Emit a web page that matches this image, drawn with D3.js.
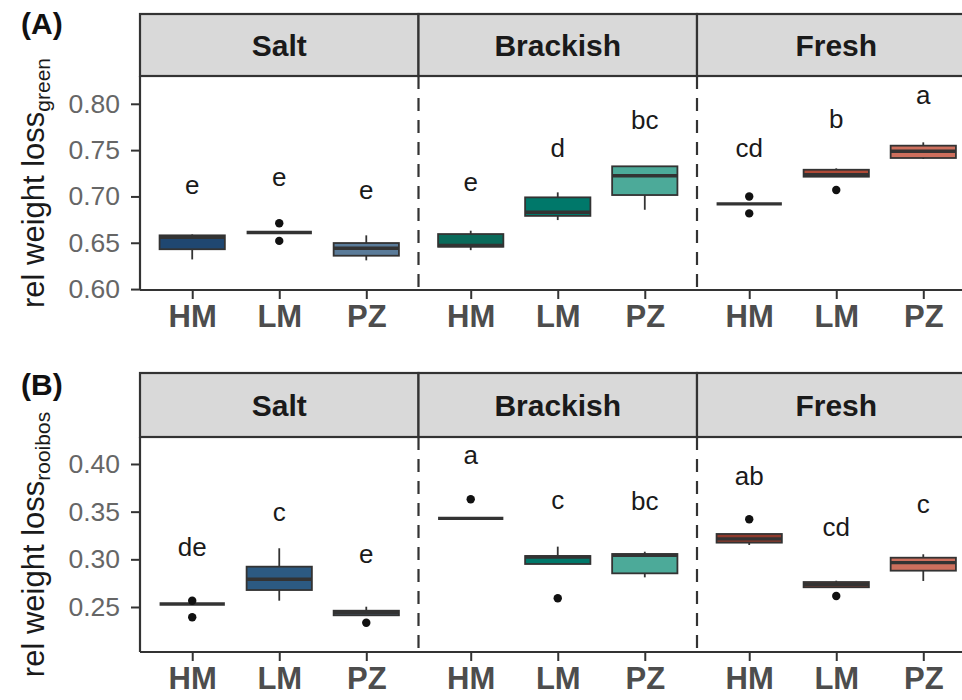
<!DOCTYPE html>
<html>
<head>
<meta charset="utf-8">
<script src="https://cdn.jsdelivr.net/npm/d3@7/dist/d3.min.js"></script>
<style>
  html, body { margin: 0; padding: 0; background: #ffffff; }
  svg { display: block; font-family: "Liberation Sans", Arial, sans-serif; }
</style>
</head>
<body>
<script>
// Sites (facets) and sampling methods (x categories)
const sites = ["Salt", "Brackish", "Fresh"];
const methods = ["HM", "LM", "PZ"];

// Box fill per site x method (row order: Salt HM..PZ, Brackish HM..PZ, Fresh HM..PZ)
const boxFills = ["#1f4771", "#2c5a82", "#5a7b99",
                  "#0a6a5a", "#00786a", "#4caa99",
                  "#8f3a2c", "#b04a37", "#cd6f5d"];

// (A) relative weight loss, green tea
const greenLower  = [0.632, 0.661, 0.631, 0.642, 0.6745, 0.6856, 0.692, 0.7213, 0.7404];
const greenQ1     = [0.643, 0.661, 0.636, 0.6457, 0.679, 0.7015, 0.692, 0.7213, 0.7415];
const greenMedian = [0.656, 0.661, 0.644, 0.647, 0.683, 0.7224, 0.692, 0.7235, 0.7487];
const greenQ3     = [0.658, 0.661, 0.6497, 0.6594, 0.699, 0.7325, 0.692, 0.7288, 0.7548];
const greenUpper  = [0.659, 0.661, 0.658, 0.663, 0.7044, 0.7325, 0.692, 0.7303, 0.7584];
const greenOutliers = [[], [0.671, 0.652], [], [], [], [], [0.700, 0.6817], [0.7069], []];
const greenLetters  = ["e", "e", "e", "e", "d", "bc", "cd", "b", "a"];
const greenLetterY  = [0.7026, 0.7118, 0.6975, 0.7064, 0.7425, 0.7733, 0.7425, 0.7739, 0.8003];
const greenTicks    = [0.60, 0.65, 0.70, 0.75, 0.80];

// (B) relative weight loss, rooibos tea
const rooibosLower  = [0.2531, 0.2566, 0.2413, 0.3430, 0.2951, 0.2811, 0.3150, 0.2707, 0.2773];
const rooibosQ1     = [0.2531, 0.2678, 0.2413, 0.3430, 0.2951, 0.2853, 0.3175, 0.2707, 0.2881];
const rooibosMedian = [0.2531, 0.2791, 0.2440, 0.3430, 0.3025, 0.3042, 0.3215, 0.2735, 0.2965];
const rooibosQ3     = [0.2531, 0.2923, 0.2461, 0.3430, 0.3035, 0.3056, 0.3266, 0.2762, 0.3017];
const rooibosUpper  = [0.2531, 0.3116, 0.2503, 0.3430, 0.3133, 0.3080, 0.3266, 0.2776, 0.3053];
const rooibosOutliers = [[0.2566, 0.2392], [], [0.2335], [0.3630], [0.2591], [], [0.342], [0.2615], []];
const rooibosLetters  = ["de", "c", "e", "a", "c", "bc", "ab", "cd", "c"];
const rooibosLetterY  = [0.3030, 0.3397, 0.2962, 0.4000, 0.3528, 0.3518, 0.3780, 0.3245, 0.3491];
const rooibosTicks    = [0.25, 0.30, 0.35, 0.40];

function buildRows(lower, q1, median, q3, upper, outliers, letters, letterY) {
  const rows = [];
  sites.forEach((s, i) => methods.forEach((m, j) => {
    const k = i * methods.length + j;
    rows.push({site: s, method: m, lower: lower[k], q1: q1[k], median: median[k],
               q3: q3[k], upper: upper[k], outliers: outliers[k],
               letter: letters[k], letterY: letterY[k], fill: boxFills[k]});
  }));
  return rows;
}

const panels = [
  {tag: "(A)", tagY: 34, sub: "green",
   rows: buildRows(greenLower, greenQ1, greenMedian, greenQ3, greenUpper, greenOutliers, greenLetters, greenLetterY),
   ticks: greenTicks, domain: [0.599, 0.830],
   stripTop: 14, stripBottom: 76, plotBottom: 290},
  {tag: "(B)", tagY: 395, sub: "rooibos",
   rows: buildRows(rooibosLower, rooibosQ1, rooibosMedian, rooibosQ3, rooibosUpper, rooibosOutliers, rooibosLetters, rooibosLetterY),
   ticks: rooibosTicks, domain: [0.2028, 0.4283],
   stripTop: 373, stripBottom: 437, plotBottom: 652}
];

const W = 962, H = 700;
const plotLeft = 140, panelW = 278.5;
const ink = "#333333";

const svg = d3.select("body").append("svg").attr("width", W).attr("height", H);

const xSite = d3.scaleBand().domain(sites).range([plotLeft, plotLeft + panelW * sites.length]).paddingInner(0).paddingOuter(0);
const xMethod = d3.scalePoint().domain(methods).range([0, panelW]).padding(0.6);
const boxW = xMethod.step() * 0.75;
const cx = d => xSite(d.site) + xMethod(d.method);

panels.forEach(p => {
  const g = svg.append("g");
  const y = d3.scaleLinear().domain(p.domain).range([p.plotBottom, p.stripBottom]);
  const right = plotLeft + panelW * sites.length;

  // panel tag
  g.append("text").attr("x", 21).attr("y", p.tagY)
    .attr("font-size", 30).attr("font-weight", "bold").attr("fill", "#111").text(p.tag);

  // facet strips
  sites.forEach(s => {
    g.append("rect").attr("x", xSite(s)).attr("y", p.stripTop)
      .attr("width", panelW).attr("height", p.stripBottom - p.stripTop)
      .attr("fill", "#d9d9d9").attr("stroke", ink).attr("stroke-width", 2.2);
    g.append("text").attr("x", xSite(s) + panelW / 2).attr("y", (p.stripTop + p.stripBottom) / 2)
      .attr("dy", "0.36em").attr("text-anchor", "middle")
      .attr("font-size", 30).attr("font-weight", "bold").attr("fill", "#1a1a1a").text(s);
  });

  // dashed separators between facets
  sites.slice(1).forEach(s => {
    g.append("line").attr("x1", xSite(s)).attr("x2", xSite(s))
      .attr("y1", p.stripBottom).attr("y2", p.plotBottom)
      .attr("stroke", ink).attr("stroke-width", 2.2).attr("stroke-dasharray", "13,9");
  });

  // y axis
  const yAxis = g.append("g").attr("transform", `translate(${plotLeft},0)`)
    .call(d3.axisLeft(y).tickValues(p.ticks).tickFormat(d3.format(".2f")).tickSize(9).tickPadding(11));
  yAxis.select(".domain").attr("stroke", ink).attr("stroke-width", 2.2)
    .attr("d", `M0,${p.stripBottom}V${p.plotBottom}`);
  yAxis.selectAll(".tick line").attr("stroke", ink).attr("stroke-width", 2);
  yAxis.selectAll(".tick text").attr("font-size", 26.5).attr("fill", "#666666")
    .attr("font-family", "Liberation Sans, Arial, sans-serif");

  // y axis title with subscript
  const t = g.append("text")
    .attr("transform", `translate(44,${(p.stripBottom + p.plotBottom) / 2}) rotate(-90)`)
    .attr("text-anchor", "middle").attr("fill", "#1a1a1a").attr("font-size", 31);
  t.append("tspan").text("rel weight loss");
  t.append("tspan").attr("dy", 6).attr("font-size", 21).text(p.sub);

  // x axis line
  g.append("line").attr("x1", plotLeft).attr("x2", right)
    .attr("y1", p.plotBottom).attr("y2", p.plotBottom)
    .attr("stroke", ink).attr("stroke-width", 2.2);

  // x axes per facet
  sites.forEach(s => {
    const xa = g.append("g").attr("transform", `translate(${xSite(s)},${p.plotBottom})`)
      .call(d3.axisBottom(xMethod).tickSize(9).tickPadding(6));
    xa.select(".domain").remove();
    xa.selectAll(".tick line").attr("stroke", ink).attr("stroke-width", 2);
    xa.selectAll(".tick text").attr("font-size", 31).attr("font-weight", "bold")
      .attr("fill", "#4d4d4d").attr("font-family", "Liberation Sans, Arial, sans-serif");
  });

  // boxplots
  const box = g.selectAll(".box").data(p.rows).join("g").attr("class", "box");
  box.append("line")
    .attr("x1", cx).attr("x2", cx)
    .attr("y1", d => y(d.upper)).attr("y2", d => y(d.q3))
    .attr("stroke", ink).attr("stroke-width", 1.8);
  box.append("line")
    .attr("x1", cx).attr("x2", cx)
    .attr("y1", d => y(d.q1)).attr("y2", d => y(d.lower))
    .attr("stroke", ink).attr("stroke-width", 1.8);
  box.append("rect")
    .attr("x", d => cx(d) - boxW / 2).attr("width", boxW)
    .attr("y", d => y(d.q3)).attr("height", d => Math.max(0, y(d.q1) - y(d.q3)))
    .attr("fill", d => d.fill).attr("stroke", ink).attr("stroke-width", 1.8);
  box.append("line")
    .attr("x1", d => cx(d) - boxW / 2).attr("x2", d => cx(d) + boxW / 2)
    .attr("y1", d => y(d.median)).attr("y2", d => y(d.median))
    .attr("stroke", ink).attr("stroke-width", 3.4);
  box.selectAll("circle").data(d => d.outliers.map(v => ({v, d}))).join("circle")
    .attr("cx", o => cx(o.d)).attr("cy", o => y(o.v)).attr("r", 4.2).attr("fill", "#111");

  // significance letters
  g.selectAll(".letter").data(p.rows).join("text").attr("class", "letter")
    .attr("x", cx).attr("y", d => y(d.letterY))
    .attr("text-anchor", "middle").attr("font-size", 26).attr("fill", "#1a1a1a")
    .text(d => d.letter);
});
</script>
</body>
</html>
